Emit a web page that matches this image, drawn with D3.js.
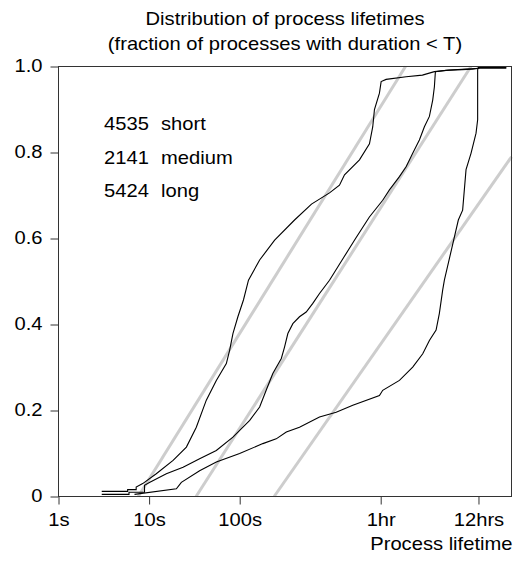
<!DOCTYPE html>
<html>
<head>
<meta charset="utf-8">
<script src="https://cdn.jsdelivr.net/npm/d3@7/dist/d3.min.js"></script>
<style>
  html, body { margin: 0; padding: 0; background: #fff; }
  svg { display: block; font-family: "Liberation Sans", Arial, Helvetica, sans-serif; }
</style>
</head>
<body>
<svg id="chart" width="519" height="563"></svg>
<script>
// Process lifetimes in seconds, cumulative fraction of processes finishing before T
const shortT = [3, 5.8, 5.8, 7.2, 7.2, 8.5, 12, 18.4, 25.8, 33.2, 42.8, 55.2, 71.2, 77.4, 84.2, 95.5, 110, 125, 166, 243, 403, 620, 980, 1263, 1435, 2099, 2705, 2942, 3071, 3486, 3640, 4130, 6871, 10390, 14090, 20610, 44170, 87700];
const shortF = [0.012, 0.012, 0.016, 0.016, 0.022, 0.03, 0.053, 0.084, 0.115, 0.161, 0.224, 0.27, 0.309, 0.34, 0.379, 0.418, 0.457, 0.503, 0.55, 0.596, 0.643, 0.68, 0.706, 0.724, 0.748, 0.783, 0.82, 0.86, 0.9, 0.938, 0.965, 0.97, 0.976, 0.98, 0.988, 0.992, 0.996, 0.996];

const mediumT = [3, 6, 6, 8.9, 8.9, 10.2, 15.5, 23.7, 36.1, 55.2, 84.2, 129, 166, 196, 232, 288, 313, 340, 386, 457, 542, 641, 760, 980, 1350, 1900, 2700, 3790, 4495, 5794, 6871, 8120, 9620, 10930, 12410, 13500, 14090, 14450, 18960, 36960, 44170];
const mediumF = [0.005, 0.005, 0.01, 0.01, 0.026, 0.033, 0.053, 0.068, 0.088, 0.107, 0.138, 0.177, 0.208, 0.247, 0.286, 0.321, 0.348, 0.379, 0.402, 0.418, 0.429, 0.449, 0.472, 0.503, 0.55, 0.6, 0.65, 0.689, 0.713, 0.744, 0.767, 0.798, 0.829, 0.86, 0.884, 0.922, 0.953, 0.988, 0.991, 0.994, 0.996];

const longT = [6.9, 20, 22.7, 36.1, 55.2, 99.8, 180, 253, 327, 457, 760, 1161, 1771, 3486, 3790, 5794, 8120, 10480, 12410, 14710, 15990, 17390, 18160, 21680, 25890, 28890, 31490, 35730, 40610, 42300, 42300, 43050, 87700];
const longF = [0.005, 0.018, 0.033, 0.06, 0.08, 0.1, 0.123, 0.134, 0.15, 0.161, 0.185, 0.196, 0.212, 0.235, 0.247, 0.27, 0.301, 0.332, 0.363, 0.387, 0.426, 0.48, 0.503, 0.573, 0.643, 0.666, 0.76, 0.798, 0.845, 0.876, 0.992, 0.998, 0.998];

// Log-uniform reference lines: [T start, F start, T end, F end]
const refLines = [
  [7.6, 0, 6760, 1],
  [33, 0, 35700, 1],
  [240, 0, 100000, 0.79]
];

const legendCounts = ["4535", "2141", "5424"];
const legendNames = ["short", "medium", "long"];

const xTickValues = [1, 10, 100, 3600, 43200];
const xTickLabels = ["1s", "10s", "100s", "1hr", "12hrs"];
const yTickValues = [0, 0.2, 0.4, 0.6, 0.8, 1.0];
const yTickLabels = ["0", "0.2", "0.4", "0.6", "0.8", "1.0"];

const titleLines = ["Distribution of process lifetimes", "(fraction of processes with duration < T)"];
const xTitle = "Process lifetime";

const svg = d3.select("#chart");
const plotLeft = 58.5, plotRight = 511.5, plotTop = 66.5, plotBottom = 496.5;
const fontSize = 18;
const stretch = 1.12; // the lettering is set slightly wide

const x = d3.scaleLog().domain([1, 100000]).range([plotLeft, plotRight]);
const y = d3.scaleLinear().domain([0, 1]).range([plotBottom, plotTop]);

// Reference lines (light grey, behind the curves)
const plot = svg.append("g");
plot.selectAll("line.ref")
  .data(refLines)
  .join("line")
  .attr("class", "ref")
  .attr("x1", d => x(d[0])).attr("y1", d => y(d[1]))
  .attr("x2", d => x(d[2])).attr("y2", d => y(d[3]))
  .attr("stroke", "#cdcdcd")
  .attr("stroke-width", 3);

// CDF curves
const line = d3.line().x(d => x(d[0])).y(d => y(d[1]));
const series = [
  d3.zip(shortT, shortF),
  d3.zip(mediumT, mediumF),
  d3.zip(longT, longF)
];
plot.selectAll("path.cdf")
  .data(series)
  .join("path")
  .attr("class", "cdf")
  .attr("d", line)
  .attr("fill", "none")
  .attr("stroke", "#000")
  .attr("stroke-width", 1.1);

// Frame
svg.append("rect")
  .attr("x", plotLeft).attr("y", plotTop)
  .attr("width", plotRight - plotLeft).attr("height", plotBottom - plotTop)
  .attr("fill", "none")
  .attr("stroke", "#333")
  .attr("stroke-width", 1);

// Axes
const xAxis = d3.axisBottom(x)
  .tickValues(xTickValues)
  .tickFormat((d, i) => xTickLabels[i])
  .tickSize(8)
  .tickPadding(9);
const gx = svg.append("g").attr("transform", `translate(0,${plotBottom})`).call(xAxis);
gx.select(".domain").remove();

const yAxis = d3.axisLeft(y)
  .tickValues(yTickValues)
  .tickFormat((d, i) => yTickLabels[i])
  .tickSize(8)
  .tickPadding(8);
const gy = svg.append("g").attr("transform", `translate(${plotLeft},0)`).call(yAxis);
gy.select(".domain").remove();

svg.selectAll(".tick line").attr("stroke", "#333");
svg.selectAll(".tick text")
  .attr("fill", "#000")
  .style("font-size", fontSize + "px")
  .style("font-family", "\"Liberation Sans\", Arial, sans-serif")
  .attr("transform", `scale(${stretch},1)`);
gy.selectAll(".tick text")
  .attr("x", -16 / stretch)
  .attr("dy", "0.3em");

// Text placed at (px, py) and widened about its anchor
function label(parent, px, py, anchor, str) {
  return parent.append("text")
    .attr("transform", `translate(${px},${py}) scale(${stretch},1)`)
    .attr("text-anchor", anchor)
    .style("font-size", fontSize + "px")
    .text(str);
}

// Title
const titleG = svg.append("g");
titleLines.forEach((t, i) => label(titleG, (plotLeft + plotRight) / 2, 25 + i * 25, "middle", t));

// Axis title
label(svg, plotRight + 1, 550, "end", xTitle);

// Legend
const legend = svg.append("g");
legendCounts.forEach((c, i) => label(legend, 104, 130 + i * 33.5, "start", c));
legendNames.forEach((n, i) => label(legend, 161, 130 + i * 33.5, "start", n));
</script>
</body>
</html>
